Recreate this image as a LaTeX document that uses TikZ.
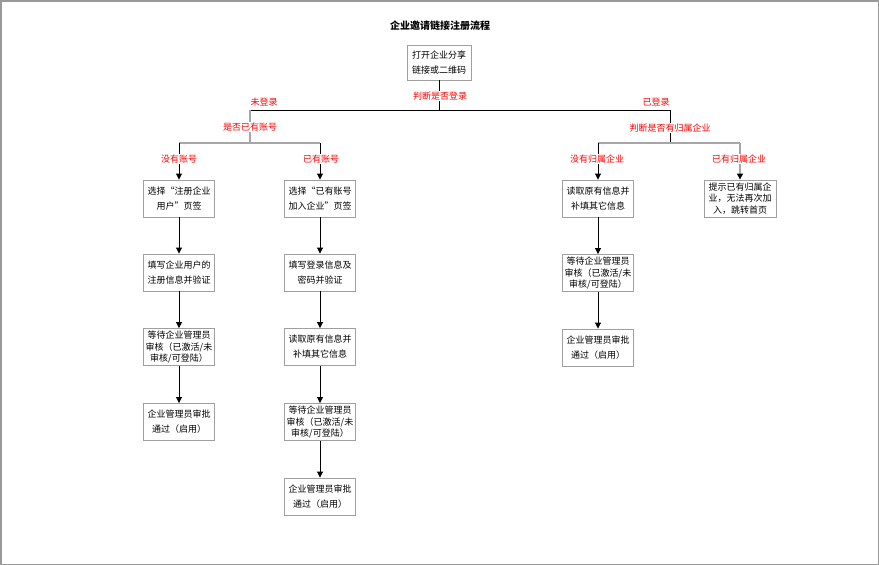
\documentclass[tikz,border=0pt]{standalone}
\usepackage{fontspec}
\setmainfont{Noto Sans CJK SC}
\usetikzlibrary{arrows.meta}
\tikzset{
  box/.style={draw=gray!75, line width=0.9pt, minimum width=71pt, minimum height=37pt, inner sep=1pt, align=center, font=\fontsize{9}{15}\selectfont},
  box3/.style={box, font=\fontsize{9}{11.8}\selectfont},
  lbl/.style={text=red, fill=white, inner sep=1pt, font=\fontsize{9}{10}\selectfont},
  conn/.style={draw=black, line width=0.9pt},
  gconn/.style={draw=gray!70, line width=1.2pt},
  arr/.style={conn, -{Triangle[length=6pt,width=6pt]}},
}
\begin{document}
\begin{tikzpicture}[x=1pt,y=-1pt]
\useasboundingbox (0,0) rectangle (879,565);
\draw[gray!80, line width=1.5pt] (0.75,0.75) rectangle (878.25,564.25);
\node[font=\fontsize{10}{11}\selectfont\bfseries] (title) at (440,26) {企业邀请链接注册流程};
% top
\node[box, minimum width=64pt, minimum height=35pt] (top) at (439,62.5) {打开企业分享\\链接或二维码};
% junctions
\coordinate (j0) at (439,110);
\coordinate (jA) at (250,110);
\coordinate (jB) at (670,110);
\coordinate (jA2) at (250,143);
\coordinate (jB2) at (670,143);
\coordinate (c1) at (179,143);
\coordinate (c2) at (320,143);
\coordinate (c3) at (598,143);
\coordinate (c4) at (740,143);
% column 1
\node[box] (L1) at (179,198.5) {选择“注册企业\\用户”页签};
\node[box] (L2) at (179,272.5) {填写企业用户的\\注册信息并验证};
\node[box3] (L3) at (179,347) {等待企业管理员\\审核（已激活/未\\审核/可登陆）};
\node[box] (L4) at (179,422) {企业管理员审批\\通过（启用）};
% column 2
\node[box] (M1) at (320,198.5) {选择“已有账号\\加入企业”页签};
\node[box] (M2) at (320,272.5) {填写登录信息及\\密码并验证};
\node[box] (M3) at (320,347) {读取原有信息并\\补填其它信息};
\node[box3] (M4) at (320,422) {等待企业管理员\\审核（已激活/未\\审核/可登陆）};
\node[box] (M5) at (320,496.5) {企业管理员审批\\通过（启用）};
% column 3
\node[box] (R1) at (598,198.5) {读取原有信息并\\补填其它信息};
\node[box3] (R2) at (598,273) {等待企业管理员\\审核（已激活/未\\审核/可登陆）};
\node[box] (R3) at (598,347.5) {企业管理员审批\\通过（启用）};
% column 4
\node[box3, minimum width=72pt] (S1) at (740,198.5) {提示已有归属企\\业，无法再次加\\入，跳转首页};
% connectors
\draw[conn] (top.south) -- (j0);
\draw[conn] (jA) -- (jB);
\draw[gconn] (jA) -- (jA2);
\draw[gconn] (c1) -- (c2);
\draw[arr] (c1) -- (L1.north);
\draw[arr] (c2) -- (M1.north);
\draw[conn] (jB) -- (jB2);
\draw[gconn] (c3) -- (c4);
\draw[arr] (c3) -- (R1.north);
\draw[gconn, -{Triangle[length=6pt,width=6pt,color=black]}] (c4) -- (S1.north);
\draw[arr] (L1) -- (L2);
\draw[arr] (L2) -- (L3);
\draw[arr] (L3) -- (L4);
\draw[arr] (M1) -- (M2);
\draw[arr] (M2) -- (M3);
\draw[arr] (M3) -- (M4);
\draw[arr] (M4) -- (M5);
\draw[arr] (R1) -- (R2);
\draw[arr] (R2) -- (R3);
% labels
\node[lbl] (l0) at (440,96) {判断是否登录};
\node[lbl] (l1) at (264,102) {未登录};
\node[lbl] (l2) at (656,102) {已登录};
\node[lbl] (l3) at (250,127) {是否已有账号};
\node[lbl] (l4) at (670,128) {判断是否有归属企业};
\node[lbl] (l5) at (179,159) {没有账号};
\node[lbl] (l6) at (321,159) {已有账号};
\node[lbl] (l7) at (597,159) {没有归属企业};
\node[lbl] (l8) at (739,159) {已有归属企业};
\end{tikzpicture}
\end{document}
